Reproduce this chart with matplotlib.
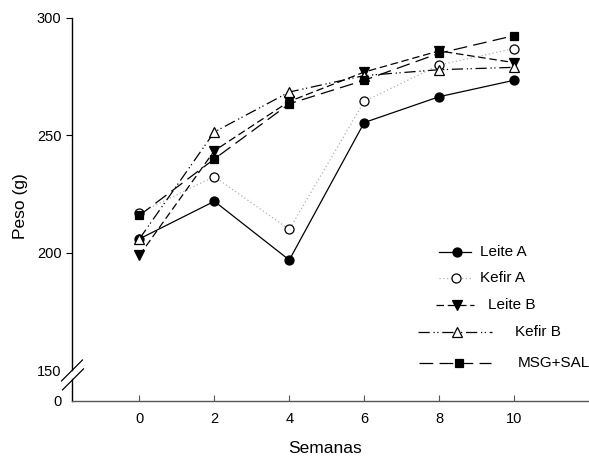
import matplotlib
matplotlib.use("Agg")
import matplotlib.pyplot as plt
from matplotlib.lines import Line2D

plt.rcParams['font.family'] = ['Liberation Sans', 'DejaVu Sans']

semanas = [0, 2, 4, 6, 8, 10]
leite_a = [206, 222, 197, 255.5, 266.5, 273.5]
kefir_a = [217, 232.5, 210, 264.5, 280, 287]
leite_b = [199, 243.5, 264.5, 277, 286, 281]
kefir_b = [206, 251.5, 268.5, 275.5, 278, 279]
msg_sal = [216, 240, 263.5, 273.5, 285, 292.5]

ytick_vals = [137, 150, 200, 250, 300]
ytick_labels = ["0", "150", "200", "250", "300"]
xtick_vals = [0, 2, 4, 6, 8, 10]

W, H = 589, 457
fig = plt.figure(figsize=(W / 100, H / 100), dpi=100)
ax = fig.add_axes([72 / W, 1 - 401 / H, (589 - 72) / W, (401 - 18) / H])

series = [
    ("Leite A", leite_a, dict(color='black', linestyle='-', marker='o', mfc='black', mec='black', ms=6.5)),
    ("Kefir A", kefir_a, dict(color='#b0b0b0', linestyle=(0, (1, 2)), marker='o', mfc='white', mec='black', ms=6.5)),
    ("Leite B", leite_b, dict(color='black', linestyle=(0, (6, 3)), marker='v', mfc='black', mec='black', ms=7)),
    ("Kefir B", kefir_b, dict(color='black', linestyle=(0, (9, 3, 1, 2, 1, 3)), marker='^', mfc='white', mec='black', ms=7)),
    ("MSG+SAL", msg_sal, dict(color='black', linestyle=(0, (11, 5)), marker='s', mfc='black', mec='black', ms=6)),
]

for name, vals, st in series:
    ax.plot(semanas, vals, lw=0.9, mew=0.9, clip_on=False, zorder=3, **st)

ax.set_xlim(-1.8, 12.0)
ax.set_ylim(137, 300)
ax.set_xticks(xtick_vals)
ax.set_yticks(ytick_vals)
ax.set_yticklabels(ytick_labels)
ax.tick_params(axis='x', direction='in', length=4, width=0.8, labelsize=10.5, pad=8, color='#555555')
ax.tick_params(axis='y', direction='out', length=4.5, width=0.8, labelsize=10.5, pad=3)
ticks = ax.yaxis.get_major_ticks()
ticks[0].tick1line.set_visible(False)
ticks[1].tick1line.set_visible(False)

for s in ['top', 'right', 'left']:
    ax.spines[s].set_visible(False)
ax.spines['bottom'].set_color('#555555')
ax.spines['bottom'].set_linewidth(1.0)

# broken left spine
ytr = ax.get_yaxis_transform()
ax.plot([0, 0], [150, 300], color='black', lw=1.0, transform=ytr, clip_on=False)
ax.plot([0, 0], [137, 146.2], color='black', lw=1.0, transform=ytr, clip_on=False)
dx = 10.5 / (589 - 72)
dy = 10.5 / 117.5 * 50
for yc, xo in [(150, 0), (146.2, 1 / (589 - 72))]:
    ax.plot([xo - dx, xo + dx], [yc - dy, yc + dy], color='black', lw=0.9,
            transform=ytr, clip_on=False)

ax.set_xlabel("Semanas", fontsize=12.5)
ax.xaxis.set_label_coords((325 - 72) / (589 - 72), -(441 - 401) / (401 - 18))
ax.set_ylabel("Peso (g)", fontsize=12.5)
ax.yaxis.set_label_coords(-(72 - 28) / (589 - 72), (401 - 206) / (401 - 18))

# manual legend (pixel layout)
leg = [
    (439, 471, 457, 252, 480),
    (439, 471, 456, 278, 480),
    (436, 474, 457, 305, 488),
    (418, 492, 457, 332, 515),
    (419, 491, 459, 363, 518),
]
for (name, vals, st), (x0, x1, xm, yy, xt) in zip(series, leg):
    st2 = dict(st)
    marker = st2.pop('marker'); mfc = st2.pop('mfc'); mec = st2.pop('mec'); ms = st2.pop('ms')
    fig.add_artist(Line2D([x0 / W, x1 / W], [1 - yy / H, 1 - yy / H], lw=0.9,
                          transform=fig.transFigure, **st2))
    fig.add_artist(Line2D([xm / W], [1 - yy / H], marker=marker, mfc=mfc, mec=mec, ms=ms,
                          mew=0.9, linestyle='none', transform=fig.transFigure))
    fig.text(xt / W, 1 - yy / H, name, fontsize=11, va='center', ha='left')

fig.savefig("out.png", dpi=100)
